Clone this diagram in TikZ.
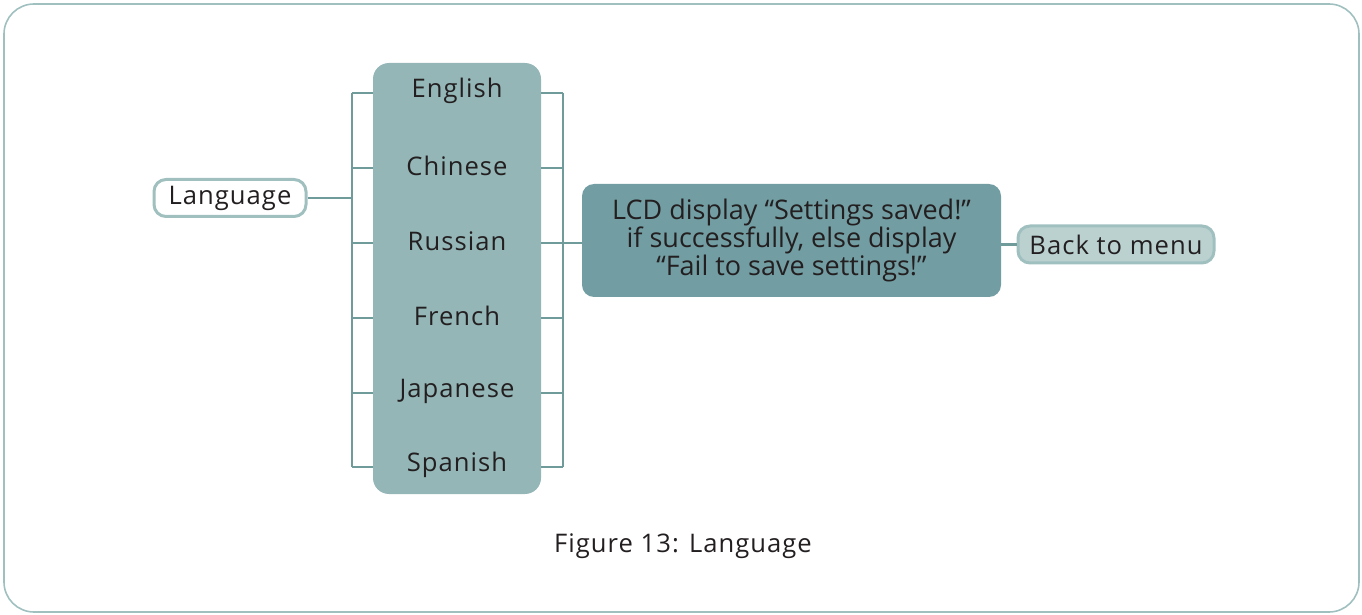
\documentclass[tikz,border=0pt]{standalone}
\usepackage{fontspec}
\setmainfont{Open Sans}[LetterSpace=4]
\newfontfamily\lcdfont{Open Sans}
\usepackage{tikz}
\usetikzlibrary{positioning,calc}
\definecolor{frameteal}{RGB}{160,192,192}
\definecolor{linkteal}{RGB}{112,155,155}
\definecolor{boxteal}{RGB}{148,182,183}
\definecolor{lcdteal}{RGB}{114,158,163}
\definecolor{backfill}{RGB}{186,209,208}
\definecolor{inkgray}{RGB}{35,31,32}

\begin{document}
\begin{tikzpicture}[x=0.5pt, y=-0.5pt, every node/.style={font=\fontsize{12.8}{15}\selectfont, text=inkgray},
  link/.style={draw=linkteal, line width=1.3pt},
  item/.style={inner sep=0pt},
  pill/.style={draw=frameteal, line width=1.5pt, rounded corners=6pt, minimum height=18.5pt, inner sep=0pt}]
  \useasboundingbox (0,0) rectangle (1362,615);
  % outer frame
  \draw[frameteal, line width=0.8pt, rounded corners=15pt] (4,4) rectangle (1359,612);
  % language box
  \node[pill, fill=white, minimum width=76pt] (lang) at (230,198) {Language};
  % choices
  \fill[boxteal, rounded corners=8pt] (373,63) rectangle (541,494);
  \coordinate (boxl) at (373,0);
  \coordinate (boxr) at (541,0);
  \coordinate (lbr) at (352,0);
  \coordinate (rbr) at (563,0);
  \node[item] (en) at (457,91) {English};
  \node[item] (zh) at (457,166) {Chinese};
  \node[item] (ru) at (457,241) {Russian};
  \node[item] (fr) at (457,316) {French};
  \node[item] (ja) at (457,391) {Japanese};
  \node[item] (es) at (457,465) {Spanish};
  % brackets
  \draw[link] (lang.east) -- (lang.east -| lbr);
  \draw[link] ($(lbr |- en)+(0,2)$) -- ($(lbr |- es)+(0,2)$);
  \draw[link] ($(rbr |- en)+(0,2)$) -- ($(rbr |- es)+(0,2)$);
  \foreach \n in {en,zh,ru,fr,ja,es}{
    \draw[link] ($(lbr |- \n)+(0,2)$) -- ($(boxl |- \n)+(0,2)$);
    \draw[link] ($(boxr |- \n)+(0,2)$) -- ($(rbr |- \n)+(0,2)$);
  }
  % result
  \node[fill=lcdteal, rounded corners=6pt, minimum width=209.5pt, minimum height=56.5pt, align=center,
    inner sep=0pt, font=\lcdfont\fontsize{13.5}{14}\selectfont] (lcd) at (791.5,240.5)
    {LCD display “Settings saved!”\\if successfully, else display\\“Fail to save settings!”};
  \node[pill, fill=backfill, minimum width=98pt] (back) at (1116,244.5) {Back to menu};
  \coordinate (rujoin) at ($(rbr |- ru)+(0,2)$);
  \draw[link] (rujoin) -- (lcd.west |- rujoin);
  \draw[link] (lcd.east |- back) -- (back.west);
  % caption
  \node (cap) at (683,546) {Figure 13: Language};
\end{tikzpicture}
\end{document}
